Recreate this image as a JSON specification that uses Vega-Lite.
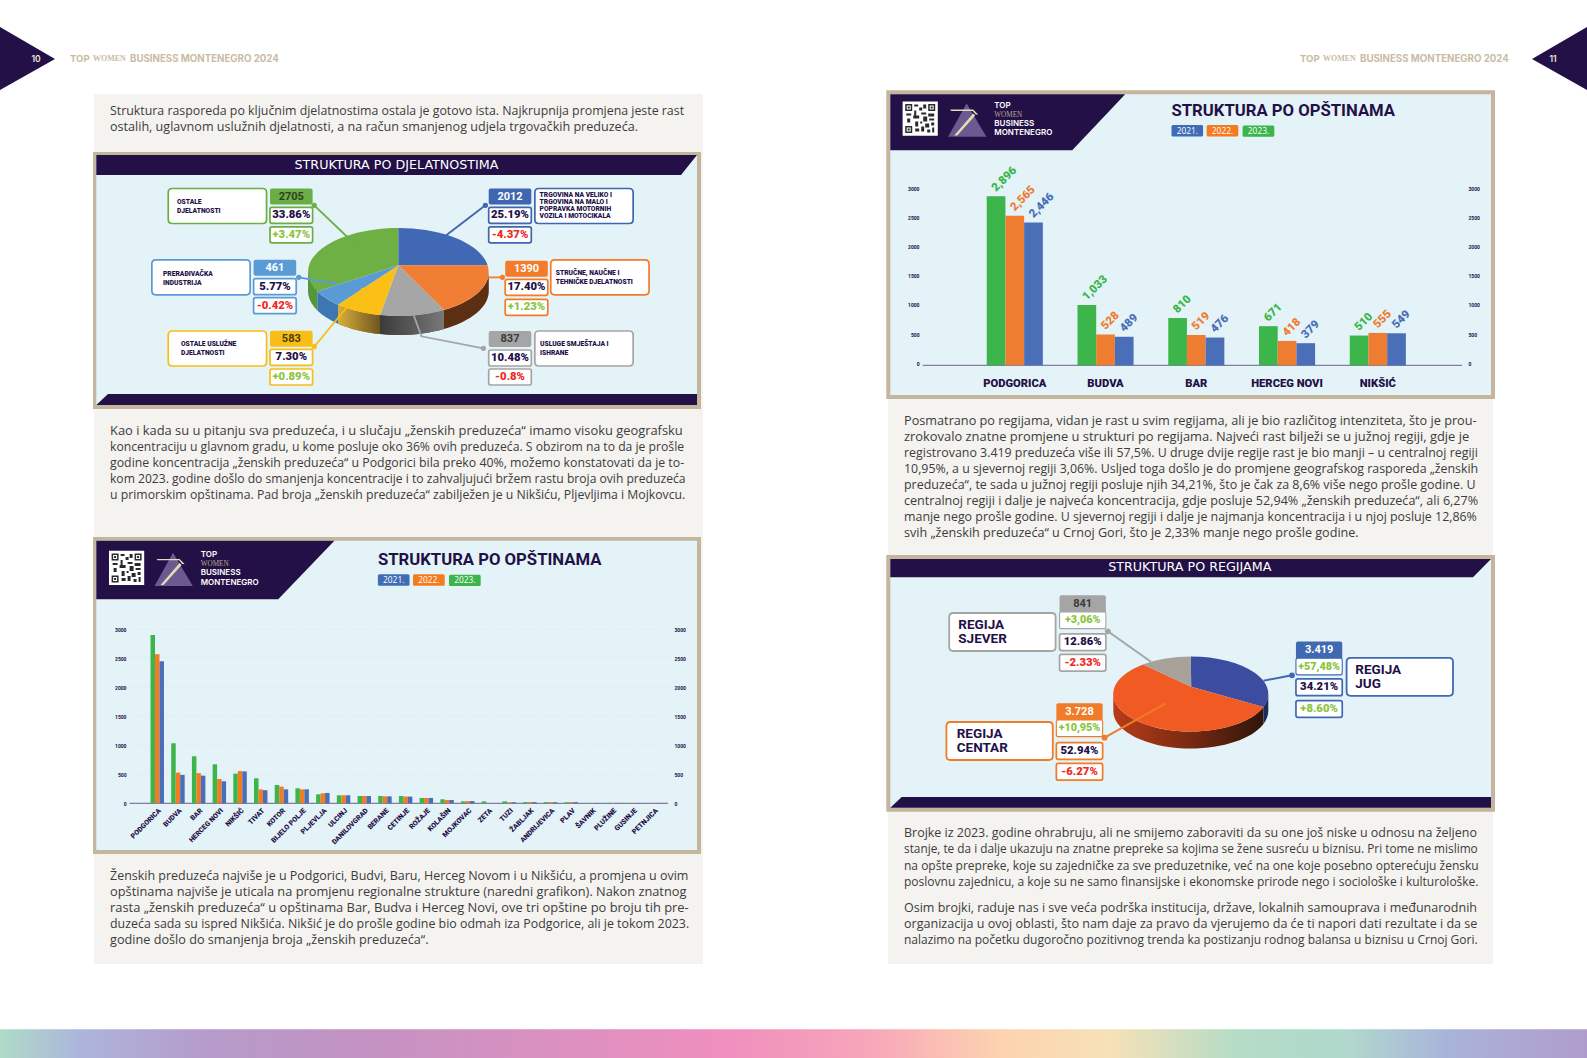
{"$schema":"https://vega.github.io/schema/vega-lite/v6.json","width":1587,"height":1058,"padding":0,"autosize":{"type":"none"},"background":"#ffffff","config":{"view":{"stroke":null},"axis":{"title":null,"grid":false,"ticks":false,"domain":false,"labelColor":"#231047","labelFont":"Roboto","labelFontWeight":"bold"}},
"datasets":{
"decor":[{"part":"Sheet left"},{"part":"Sheet right"},{"part":"Frames"},{"part":"Panels"},{"part":"Bands"}],
"pages":[{"side":"left","page":"10"},{"side":"right","page":"11"}],
"titles":[{"title":"STRUKTURA PO DJELATNOSTIMA"},{"title":"STRUKTURA PO REGIJAMA"}],
"panels":[{"panel":"all","title":"STRUKTURA PO OPŠTINAMA","top":"TOP","brand":"BUSINESS\nMONTENEGRO","women":"WOMEN"},{"panel":"top5","title":"STRUKTURA PO OPŠTINAMA","top":"TOP","brand":"BUSINESS\nMONTENEGRO","women":"WOMEN"}],
"chips":[{"panel":"all","year":"2021."},{"panel":"all","year":"2022."},{"panel":"all","year":"2023."},{"panel":"top5","year":"2021."},{"panel":"top5","year":"2022."},{"panel":"top5","year":"2023."}],
"depts":[
{"dept":"Ostale djelatnosti","n":2705,"shown":"2705","share":"33.86%","change":"+3.47%","label":"OSTALE\nDJELATNOSTI"},
{"dept":"Trgovina","n":2012,"shown":"2012","share":"25.19%","change":"-4.37%","label":"TRGOVINA NA VELIKO I\nTRGOVINA NA MALO I\nPOPRAVKA MOTORNIH\nVOZILA I MOTOCIKALA"},
{"dept":"Stručne","n":1390,"shown":"1390","share":"17.40%","change":"+1.23%","label":"STRUČNE, NAUČNE I\nTEHNIČKE DJELATNOSTI"},
{"dept":"Smještaj","n":837,"shown":"837","share":"10.48%","change":"-0.8%","label":"USLUGE SMJEŠTAJA I\nISHRANE"},
{"dept":"Uslužne","n":583,"shown":"583","share":"7.30%","change":"+0.89%","label":"OSTALE USLUŽNE\nDJELATNOSTI"},
{"dept":"Prerađivačka","n":461,"shown":"461","share":"5.77%","change":"-0.42%","label":"PRERAĐIVAČKA\nINDUSTRIJA"}],
"regions":[
{"region":"Jug","n":3419,"shown":"3.419","growth":"+57,48%","share":"34.21%","change":"+8.60%","label":"REGIJA\nJUG"},
{"region":"Centar","n":3728,"shown":"3.728","growth":"+10,95%","share":"52.94%","change":"-6.27%","label":"REGIJA\nCENTAR"},
{"region":"Sjever","n":841,"shown":"841","growth":"+3,06%","share":"12.86%","change":"-2.33%","label":"REGIJA\nSJEVER"}],
"munis":[
{"m":"PODGORICA","year":"2023","n":2896},{"m":"PODGORICA","year":"2022","n":2565},{"m":"PODGORICA","year":"2021","n":2446},
{"m":"BUDVA","year":"2023","n":1033},{"m":"BUDVA","year":"2022","n":528},{"m":"BUDVA","year":"2021","n":489},
{"m":"BAR","year":"2023","n":810},{"m":"BAR","year":"2022","n":519},{"m":"BAR","year":"2021","n":476},
{"m":"HERCEG NOVI","year":"2023","n":671},{"m":"HERCEG NOVI","year":"2022","n":418},{"m":"HERCEG NOVI","year":"2021","n":379},
{"m":"NIKŠIĆ","year":"2023","n":510},{"m":"NIKŠIĆ","year":"2022","n":555},{"m":"NIKŠIĆ","year":"2021","n":549},
{"m":"TIVAT","year":"2023","n":430},{"m":"TIVAT","year":"2022","n":240},{"m":"TIVAT","year":"2021","n":225},
{"m":"KOTOR","year":"2023","n":315},{"m":"KOTOR","year":"2022","n":287},{"m":"KOTOR","year":"2021","n":240},
{"m":"BIJELO POLJE","year":"2023","n":258},{"m":"BIJELO POLJE","year":"2022","n":240},{"m":"BIJELO POLJE","year":"2021","n":240},
{"m":"PLJEVLJA","year":"2023","n":155},{"m":"PLJEVLJA","year":"2022","n":172},{"m":"PLJEVLJA","year":"2021","n":178},
{"m":"ULCINJ","year":"2023","n":138},{"m":"ULCINJ","year":"2022","n":138},{"m":"ULCINJ","year":"2021","n":138},
{"m":"DANILOVGRAD","year":"2023","n":126},{"m":"DANILOVGRAD","year":"2022","n":126},{"m":"DANILOVGRAD","year":"2021","n":126},
{"m":"BERANE","year":"2023","n":126},{"m":"BERANE","year":"2022","n":120},{"m":"BERANE","year":"2021","n":120},
{"m":"CETINJE","year":"2023","n":126},{"m":"CETINJE","year":"2022","n":115},{"m":"CETINJE","year":"2021","n":115},
{"m":"ROŽAJE","year":"2023","n":92},{"m":"ROŽAJE","year":"2022","n":92},{"m":"ROŽAJE","year":"2021","n":92},
{"m":"KOLAŠIN","year":"2023","n":69},{"m":"KOLAŠIN","year":"2022","n":57},{"m":"KOLAŠIN","year":"2021","n":57},
{"m":"MOJKOVAC","year":"2023","n":34},{"m":"MOJKOVAC","year":"2022","n":38},{"m":"MOJKOVAC","year":"2021","n":38},
{"m":"ZETA","year":"2023","n":34},{"m":"ZETA","year":"2022","n":0},{"m":"ZETA","year":"2021","n":0},
{"m":"TUZI","year":"2023","n":34},{"m":"TUZI","year":"2022","n":17},{"m":"TUZI","year":"2021","n":16},
{"m":"ŽABLJAK","year":"2023","n":20},{"m":"ŽABLJAK","year":"2022","n":20},{"m":"ŽABLJAK","year":"2021","n":20},
{"m":"ANDRIJEVICA","year":"2023","n":20},{"m":"ANDRIJEVICA","year":"2022","n":20},{"m":"ANDRIJEVICA","year":"2021","n":18},
{"m":"PLAV","year":"2023","n":18},{"m":"PLAV","year":"2022","n":20},{"m":"PLAV","year":"2021","n":20},
{"m":"ŠAVNIK","year":"2023","n":5},{"m":"ŠAVNIK","year":"2022","n":5},{"m":"ŠAVNIK","year":"2021","n":4},
{"m":"PLUŽINE","year":"2023","n":4},{"m":"PLUŽINE","year":"2022","n":5},{"m":"PLUŽINE","year":"2021","n":4},
{"m":"GUSINJE","year":"2023","n":3},{"m":"GUSINJE","year":"2022","n":4},{"m":"GUSINJE","year":"2021","n":3},
{"m":"PETNJICA","year":"2023","n":2},{"m":"PETNJICA","year":"2022","n":3},{"m":"PETNJICA","year":"2021","n":3}],
"lines":[
{"column":"left","line":0,"text":"Struktura rasporeda po ključnim djelatnostima ostala je gotovo ista. Najkrupnija promjena jeste rast"},
{"column":"left","line":1,"text":"ostalih, uglavnom uslužnih djelatnosti, a na račun smanjenog udjela trgovačkih preduzeća."},
{"column":"left","line":2,"text":"Kao i kada su u pitanju sva preduzeća, i u slučaju „ženskih preduzeća“ imamo visoku geografsku"},
{"column":"left","line":3,"text":"koncentraciju u glavnom gradu, u kome posluje oko 36% ovih preduzeća. S obzirom na to da je prošle"},
{"column":"left","line":4,"text":"godine koncentracija „ženskih preduzeća“ u Podgorici bila preko 40%, možemo konstatovati da je to-"},
{"column":"left","line":5,"text":"kom 2023. godine došlo do smanjenja koncentracije i to zahvaljujući bržem rastu broja ovih preduzeća"},
{"column":"left","line":6,"text":"u primorskim opštinama. Pad broja „ženskih preduzeća“ zabilježen je u Nikšiću, Pljevljima i Mojkovcu."},
{"column":"left","line":7,"text":"Ženskih preduzeća najviše je u Podgorici, Budvi, Baru, Herceg Novom i u Nikšiću, a promjena u ovim"},
{"column":"left","line":8,"text":"opštinama najviše  je uticala na promjenu regionalne strukture (naredni grafikon).  Nakon znatnog"},
{"column":"left","line":9,"text":"rasta „ženskih preduzeća“ u opštinama Bar, Budva i Herceg Novi, ove tri opštine po broju tih pre-"},
{"column":"left","line":10,"text":"duzeća sada su ispred Nikšića. Nikšić je do prošle godine bio odmah iza Podgorice, ali je tokom 2023."},
{"column":"left","line":11,"text":"godine došlo do smanjenja broja „ženskih preduzeća“."},
{"column":"right","line":0,"text":"Posmatrano po regijama, vidan je rast u svim regijama, ali je bio različitog intenziteta, što je prou-"},
{"column":"right","line":1,"text":"zrokovalo znatne promjene u strukturi po regijama. Najveći rast bilježi se u južnoj regiji, gdje je"},
{"column":"right","line":2,"text":"registrovano 3.419 preduzeća više ili 57,5%. U druge dvije regije rast je bio manji – u centralnoj regiji"},
{"column":"right","line":3,"text":"10,95%, a u sjevernoj regiji 3,06%. Usljed toga došlo je do promjene geografskog rasporeda „ženskih"},
{"column":"right","line":4,"text":"preduzeća“, te sada u južnoj regiji  posluje njih 34,21%, što je čak za 8,6% više nego prošle godine. U"},
{"column":"right","line":5,"text":"centralnoj regiji i dalje je najveća koncentracija, gdje posluje 52,94% „ženskih preduzeća“, ali 6,27%"},
{"column":"right","line":6,"text":"manje nego prošle godine. U sjevernoj regiji i dalje je najmanja koncentracija i u njoj posluje 12,86%"},
{"column":"right","line":7,"text":"svih „ženskih preduzeća“ u Crnoj Gori, što je 2,33% manje nego prošle godine."},
{"column":"right","line":8,"text":"Brojke iz 2023. godine ohrabruju, ali ne smijemo zaboraviti da su one još niske u odnosu na željeno"},
{"column":"right","line":9,"text":"stanje, te da i dalje ukazuju na znatne prepreke sa kojima se žene susreću u biznisu. Pri tome ne mislimo"},
{"column":"right","line":10,"text":"na opšte prepreke, koje su zajedničke za sve preduzetnike, već na one koje posebno opterećuju žensku"},
{"column":"right","line":11,"text":"poslovnu zajednicu, a koje su ne samo finansijske i ekonomske prirode nego i sociološke i kulturološke."},
{"column":"right","line":12,"text":"Osim brojki, raduje nas i sve veća podrška institucija, države, lokalnih samouprava i međunarodnih"},
{"column":"right","line":13,"text":"organizacija u ovoj oblasti, što nam daje za pravo da vjerujemo da će ti napori dati rezultate i da se"},
{"column":"right","line":14,"text":"nalazimo na početku dugoročno pozitivnog trenda ka postizanju rodnog balansa u biznisu u Crnoj Gori."}]
},
"resolve":{"scale":{"x":"independent","y":"independent","xOffset":"independent","color":"independent","fill":"independent","stroke":"independent","shape":"independent","size":"independent","opacity":"independent"},"axis":{"x":"independent","y":"independent"}},
"layer":[
{"data":{"name":"decor"},"mark":{"type":"point","filled":true,"opacity":1,"strokeWidth":0,"size":4},"encoding":{"x":{"value":0},"y":{"value":0},
"shape":{"field":"part","type":"nominal","legend":null,"scale":{"domain":["Sheet left","Sheet right","Frames","Panels","Bands"],"range":[
"M94,94H703V964H94Z",
"M888,395H1493V964H888Z",
"M93,152H701V409H93ZM93,537H701V854H93ZM886.3,90.3H1495V399H886.3ZM886.3,555H1495V811.7H886.3Z",
"M96.3,155H697V405H96.3ZM96.3,540.7H697V850H96.3ZM890.3,94.3H1491V395H890.3ZM890.3,559H1491V807.7H890.3Z",
"M0,27L55,59L0,90ZM1587,27L1532,59L1587,90ZM96.3,155H697L681,175H96.3ZM108,394H697V405H96.3ZM96.3,540.7H334.4L278.2,599.3H96.3ZM890.3,94.3H1125.2L1072.2,150.3H890.3ZM890.3,559H1491L1473,577.3H890.3ZM901.7,797H1491V807.7H890.3Z"]}},
"fill":{"field":"part","type":"nominal","legend":null,"scale":{"domain":["Sheet left","Sheet right","Frames","Panels","Bands"],"range":["#F4F3EF","#F4F3EF","#C4B59D","#E3F3F7","#231047"]}}}},
{"data":{"values":[{"part":"Footer"}]},"mark":{"type":"point","filled":true,"opacity":1,"strokeWidth":0,"size":4,"shape":"M0,1029.3H1587V1058H0Z","fill":{"gradient":"linear","x1":0,"x2":1,"y1":0,"y2":0,"stops":[{"offset":0,"color":"#AEDCC8"},{"offset":0.05,"color":"#ADB5DC"},{"offset":0.13,"color":"#B59BCA"},{"offset":0.24,"color":"#C592C2"},{"offset":0.46,"color":"#F08FBE"},{"offset":0.55,"color":"#F7A7B9"},{"offset":0.63,"color":"#FDD3AF"},{"offset":0.7,"color":"#F6E1B8"},{"offset":0.78,"color":"#B4DCC6"},{"offset":0.85,"color":"#B0D8CC"},{"offset":0.91,"color":"#A9B4DB"},{"offset":1,"color":"#B09CCC"}]}},"encoding":{"x":{"value":0},"y":{"value":0}}},
{"data":{"values":[{"part":"Grid"}]},"mark":{"type":"point","filled":false,"opacity":1,"size":4,"shape":"M130,774H668M130,746H668M130,716H668M130,687H668M130,657H668M130,629H668","stroke":"#CFE0E6","strokeWidth":0.7,"strokeDash":[1,2]},"encoding":{"x":{"value":0},"y":{"value":0}}},
{"data":{"values":[{"part":"Baselines"}]},"mark":{"type":"point","filled":false,"opacity":1,"size":4,"shape":"M129.5,803.3H668M922.7,365.3H1462","stroke":"#6D5F8F","strokeWidth":1},"encoding":{"x":{"value":0},"y":{"value":0}}},

{"data":{"name":"pages"},"mark":{"type":"text","font":"Inter","fontWeight":700,"fontSize":9.6,"color":"#C9BCA3","align":"left","baseline":"middle","text":"TOP"},"encoding":{"x":{"field":"side","type":"nominal","axis":null,"scale":{"domain":["left","right"],"range":[70,1300],"padding":0}},"y":{"field":"side","type":"nominal","axis":null,"scale":{"domain":["left","right"],"range":[59,59],"padding":0}}}},
{"data":{"name":"pages"},"mark":{"type":"text","font":"Liberation Serif","fontWeight":700,"fontSize":8,"color":"#C9BCA3","align":"left","baseline":"middle","dx":23,"text":"WOMEN"},"encoding":{"x":{"field":"side","type":"nominal","axis":null,"scale":{"domain":["left","right"],"range":[70,1300],"padding":0}},"y":{"field":"side","type":"nominal","axis":null,"scale":{"domain":["left","right"],"range":[59,59],"padding":0}}}},
{"data":{"name":"pages"},"mark":{"type":"text","font":"Inter","fontWeight":700,"fontSize":9.7,"color":"#C9BCA3","align":"left","baseline":"middle","dx":60,"text":"BUSINESS MONTENEGRO 2024"},"encoding":{"x":{"field":"side","type":"nominal","axis":null,"scale":{"domain":["left","right"],"range":[70,1300],"padding":0}},"y":{"field":"side","type":"nominal","axis":null,"scale":{"domain":["left","right"],"range":[59,59],"padding":0}}}},
{"data":{"name":"pages"},"mark":{"type":"text","font":"Inter","fontWeight":600,"fontSize":8.5,"color":"#EFE9DC","align":"center","baseline":"middle"},"encoding":{"text":{"field":"page"},"x":{"field":"side","type":"nominal","axis":null,"scale":{"domain":["left","right"],"range":[36,1553],"padding":0}},"y":{"field":"side","type":"nominal","axis":null,"scale":{"domain":["left","right"],"range":[59,59],"padding":0}}}},

{"data":{"name":"lines"},"transform":[{"filter":"datum.column==='left'"}],"mark":{"type":"text","font":"Open Sans","color":"#3C3C3C","align":"left","baseline":"middle"},"encoding":{"text":{"field":"text"},"x":{"field":"column","type":"nominal","axis":null,"scale":{"domain":["left","right"],"range":[110,904],"padding":0}},"y":{"field":"line","type":"quantitative","axis":null,"scale":{"domain":[0,1,2,6,7,11],"range":[110.7,127,430.7,495,875.7,940],"zero":false,"nice":false}},
"size":{"field":"line","type":"quantitative","legend":null,"scale":{"zero":false,"nice":false,"domain":[0,1,2,3,4,5,6,7,8,9,10,11],"range":[12.37,12.58,12.9,12.18,12.32,12.11,12.25,12.48,12.8,12.9,12.4,12.68]}}}},
{"data":{"name":"lines"},"transform":[{"filter":"datum.column==='right'"}],"mark":{"type":"text","font":"Open Sans","color":"#3C3C3C","align":"left","baseline":"middle"},"encoding":{"text":{"field":"text"},"x":{"field":"column","type":"nominal","axis":null,"scale":{"domain":["left","right"],"range":[110,904],"padding":0}},"y":{"field":"line","type":"quantitative","axis":null,"scale":{"domain":[0,7,8,11,12,14],"range":[420.7,532.7,833.3,881.7,908.3,940.3],"zero":false,"nice":false}},
"size":{"field":"line","type":"quantitative","legend":null,"scale":{"zero":false,"nice":false,"domain":[0,1,2,3,4,5,6,7,8,9,10,11,12,13,14],"range":[12.7,12.9,12.4,12.37,12.44,12.59,12.42,12.6,12.46,11.82,12,12,12.5,12.55,11.98]}}}},

{"data":{"name":"titles"},"mark":{"type":"text","font":"DejaVu Sans","fontSize":12.7,"color":"#FFFFFF","align":"center","baseline":"middle"},"encoding":{"text":{"field":"title"},"x":{"field":"title","type":"nominal","axis":null,"scale":{"domain":["STRUKTURA PO DJELATNOSTIMA","STRUKTURA PO REGIJAMA"],"range":[396.5,1189.8],"padding":0}},"y":{"field":"title","type":"nominal","axis":null,"scale":{"domain":["STRUKTURA PO DJELATNOSTIMA","STRUKTURA PO REGIJAMA"],"range":[164.7,567.3],"padding":0}}}},

{"data":{"name":"panels"},"mark":{"type":"point","filled":true,"opacity":1,"strokeWidth":0,"size":4,"fill":"#FFFFFF","shape":"M-17.6,-17.2H17.6V17.2H-17.6Z"},"encoding":{"x":{"field":"panel","type":"nominal","axis":null,"scale":{"domain":["all","top5"],"range":[126.6,920.2],"padding":0}},"y":{"field":"panel","type":"nominal","axis":null,"scale":{"domain":["all","top5"],"range":[567.9,118.6],"padding":0}}}},
{"data":{"name":"panels"},"mark":{"type":"point","filled":true,"opacity":1,"strokeWidth":0,"size":4,"fill":"#2A2A2A","shape":"M-15,-14.5H-8V-7.5H-15ZM-13.5,-13V-9H-9.5V-13ZM-12.5,-12H-10.5V-10H-12.5ZM8,-14.5H15V-7.5H8ZM9.5,-13V-9H13.5V-13ZM10.5,-12H12.5V-10H10.5ZM-15,7.5H-8V14.5H-15ZM-13.5,9V13H-9.5V9ZM-12.5,10H-10.5V12H-12.5ZM-6,-14H-2V-12H-6ZM-1,-11H2V-8H-1ZM3,-14H6V-10H3ZM-6,-8H-4V-3H-6ZM-14,-5H-9V-3H-14ZM-7,-3H-1V0H-7ZM1,-6H6V-4H1ZM8,-5H14V-2H8ZM-13,0H-10V4H-13ZM3,-2H7V3H3ZM9,0H14V2H9ZM-5,3H-2V8H-5ZM0,3H2V5H0ZM5,5H9V9H5ZM11,4H14V7H11ZM-5,10H-1V13H-5ZM1,8H4V13H1ZM7,11H10V14H7ZM12,9H14V14H12Z"},"encoding":{"x":{"field":"panel","type":"nominal","axis":null,"scale":{"domain":["all","top5"],"range":[126.6,920.2],"padding":0}},"y":{"field":"panel","type":"nominal","axis":null,"scale":{"domain":["all","top5"],"range":[567.9,118.6],"padding":0}}}},
{"data":{"name":"panels"},"mark":{"type":"point","filled":true,"opacity":1,"strokeWidth":0,"size":4,"fill":"#6A5A92","shape":"M46.4,-15.2L66.2,18.1H27.9Z"},"encoding":{"x":{"field":"panel","type":"nominal","axis":null,"scale":{"domain":["all","top5"],"range":[126.6,920.2],"padding":0}},"y":{"field":"panel","type":"nominal","axis":null,"scale":{"domain":["all","top5"],"range":[567.9,118.6],"padding":0}}}},
{"data":{"name":"panels"},"mark":{"type":"point","filled":true,"opacity":1,"strokeWidth":0,"size":4,"fill":"#E4DDB0","shape":"M34,17L37,17L55,-3L53,-5ZM30,-9H53L58,-4H55.5L52.5,-7.6H31Z"},"encoding":{"x":{"field":"panel","type":"nominal","axis":null,"scale":{"domain":["all","top5"],"range":[126.6,920.2],"padding":0}},"y":{"field":"panel","type":"nominal","axis":null,"scale":{"domain":["all","top5"],"range":[567.9,118.6],"padding":0}}}},
{"data":{"name":"panels"},"mark":{"type":"text","font":"Inter","fontWeight":600,"fontSize":8,"color":"#FFFFFF","align":"left","baseline":"middle","dx":74.1,"dy":-12.9},"encoding":{"text":{"field":"top"},"x":{"field":"panel","type":"nominal","axis":null,"scale":{"domain":["all","top5"],"range":[126.6,920.2],"padding":0}},"y":{"field":"panel","type":"nominal","axis":null,"scale":{"domain":["all","top5"],"range":[567.9,118.6],"padding":0}}}},
{"data":{"name":"panels"},"mark":{"type":"text","font":"Inter","fontWeight":600,"fontSize":8,"lineBreak":"\n","lineHeight":9.7,"color":"#FFFFFF","align":"left","baseline":"middle","dx":74.1,"dy":5.1},"encoding":{"text":{"field":"brand"},"x":{"field":"panel","type":"nominal","axis":null,"scale":{"domain":["all","top5"],"range":[126.6,920.2],"padding":0}},"y":{"field":"panel","type":"nominal","axis":null,"scale":{"domain":["all","top5"],"range":[567.9,118.6],"padding":0}}}},
{"data":{"name":"panels"},"mark":{"type":"text","font":"Liberation Serif","fontSize":7.2,"color":"#B7A98F","align":"left","baseline":"middle","dx":74.1,"dy":-3.6},"encoding":{"text":{"field":"women"},"x":{"field":"panel","type":"nominal","axis":null,"scale":{"domain":["all","top5"],"range":[126.6,920.2],"padding":0}},"y":{"field":"panel","type":"nominal","axis":null,"scale":{"domain":["all","top5"],"range":[567.9,118.6],"padding":0}}}},
{"data":{"name":"panels"},"mark":{"type":"text","font":"Roboto","fontWeight":700,"fontSize":16.7,"color":"#231047","align":"left","baseline":"middle","dx":251.3,"dy":-7.5},"encoding":{"text":{"field":"title"},"x":{"field":"panel","type":"nominal","axis":null,"scale":{"domain":["all","top5"],"range":[126.6,920.2],"padding":0}},"y":{"field":"panel","type":"nominal","axis":null,"scale":{"domain":["all","top5"],"range":[567.9,118.6],"padding":0}}}},
{"data":{"name":"chips"},"mark":{"type":"point","filled":true,"opacity":1,"strokeWidth":0,"size":4},"encoding":{"x":{"field":"panel","type":"nominal","axis":null,"scale":{"domain":["all","top5"],"range":[126.6,920.2],"padding":0}},"y":{"field":"panel","type":"nominal","axis":null,"scale":{"domain":["all","top5"],"range":[567.9,118.6],"padding":0}},
"shape":{"field":"year","type":"nominal","legend":null,"scale":{"domain":["2021.","2022.","2023."],"range":["M252.8,6.4H281.4Q282.9,6.4 282.9,7.9V16.3Q282.9,17.8 281.4,17.8H252.8Q251.3,17.8 251.3,16.3V7.9Q251.3,6.4 252.8,6.4Z","M287.9,6.4H316.6Q318.1,6.4 318.1,7.9V16.3Q318.1,17.8 316.6,17.8H287.9Q286.4,17.8 286.4,16.3V7.9Q286.4,6.4 287.9,6.4Z","M323.9,6.8H352.6Q354.1,6.8 354.1,8.3V16.7Q354.1,18.2 352.6,18.2H323.9Q322.4,18.2 322.4,16.7V8.3Q322.4,6.8 323.9,6.8Z"]}},
"fill":{"field":"year","type":"nominal","legend":null,"scale":{"domain":["2021.","2022.","2023."],"range":["#3F6DB5","#F47B20","#3CB54A"]}}}},
{"data":{"name":"chips"},"transform":[{"filter":"datum.year==='2021.'"}],"mark":{"type":"text","font":"Open Sans","fontSize":8.4,"color":"#FFFFFF","align":"center","baseline":"middle","dx":267.1,"dy":12.1},"encoding":{"text":{"field":"year"},"x":{"field":"panel","type":"nominal","axis":null,"scale":{"domain":["all","top5"],"range":[126.6,920.2],"padding":0}},"y":{"field":"panel","type":"nominal","axis":null,"scale":{"domain":["all","top5"],"range":[567.9,118.6],"padding":0}}}},
{"data":{"name":"chips"},"transform":[{"filter":"datum.year==='2022.'"}],"mark":{"type":"text","font":"Open Sans","fontSize":8.4,"color":"#FFFFFF","align":"center","baseline":"middle","dx":302.3,"dy":12.1},"encoding":{"text":{"field":"year"},"x":{"field":"panel","type":"nominal","axis":null,"scale":{"domain":["all","top5"],"range":[126.6,920.2],"padding":0}},"y":{"field":"panel","type":"nominal","axis":null,"scale":{"domain":["all","top5"],"range":[567.9,118.6],"padding":0}}}},
{"data":{"name":"chips"},"transform":[{"filter":"datum.year==='2023.'"}],"mark":{"type":"text","font":"Open Sans","fontSize":8.4,"color":"#FFFFFF","align":"center","baseline":"middle","dx":338.3,"dy":12.5},"encoding":{"text":{"field":"year"},"x":{"field":"panel","type":"nominal","axis":null,"scale":{"domain":["all","top5"],"range":[126.6,920.2],"padding":0}},"y":{"field":"panel","type":"nominal","axis":null,"scale":{"domain":["all","top5"],"range":[567.9,118.6],"padding":0}}}},

{"data":{"name":"munis"},"mark":{"type":"bar"},"encoding":{
"x":{"field":"m","type":"nominal","sort":null,"axis":{"orient":"bottom","offset":-254.7,"zindex":1,"labelAngle":-45,"labelFontSize":7,"labelFontWeight":900,"labelPadding":3,"labelOverlap":false,"labelBound":false,"labelFlush":false},"scale":{"domain":["PODGORICA","BUDVA","BAR","HERCEG NOVI","NIKŠIĆ","TIVAT","KOTOR","BIJELO POLJE","PLJEVLJA","ULCINJ","DANILOVGRAD","BERANE","CETINJE","ROŽAJE","KOLAŠIN","MOJKOVAC","ZETA","TUZI","ŽABLJAK","ANDRIJEVICA","PLAV","ŠAVNIK","PLUŽINE","GUSINJE","PETNJICA"],"range":[146.9,664.4],"paddingInner":0.35,"paddingOuter":0.175}},
"xOffset":{"field":"year","type":"nominal","scale":{"domain":["2023","2022","2021"]}},
"y":{"field":"n","type":"quantitative","axis":{"orient":"left","offset":-128,"zindex":1,"format":"d","values":[0,500,1000,1500,2000,2500,3000],"labelFontSize":5,"labelPadding":2},"scale":{"domain":[0,3000],"range":[803.3,629],"nice":false}},
"color":{"field":"year","type":"nominal","legend":null,"scale":{"domain":["2023","2022","2021"],"range":["#3CB54A","#F47B20","#4A6FB8"]}}}},
{"data":{"name":"munis"},"mark":{"type":"point","opacity":0},"encoding":{"x":{"value":0},"y":{"field":"n","type":"quantitative","axis":{"orient":"right","offset":-915,"zindex":1,"format":"d","values":[0,500,1000,1500,2000,2500,3000],"labelFontSize":5,"labelPadding":2},"scale":{"domain":[0,3000],"range":[803.3,629],"nice":false}}}},

{"data":{"name":"munis"},"transform":[{"filter":{"field":"m","oneOf":["PODGORICA","BUDVA","BAR","HERCEG NOVI","NIKŠIĆ"]}}],"mark":{"type":"bar"},"encoding":{
"x":{"field":"m","type":"nominal","sort":null,"axis":{"orient":"bottom","offset":-692.7,"zindex":1,"labelAngle":0,"labelFontSize":11.2,"labelFontWeight":900,"labelPadding":12,"labelOverlap":false,"labelBound":false,"labelFlush":false},"scale":{"domain":["PODGORICA","BUDVA","BAR","HERCEG NOVI","NIKŠIĆ"],"range":[969.4,1423.2],"paddingInner":0.382,"paddingOuter":0.191}},
"xOffset":{"field":"year","type":"nominal","scale":{"domain":["2023","2022","2021"]}},
"y":{"field":"n","type":"quantitative","axis":{"orient":"left","offset":-921,"zindex":1,"format":"d","values":[0,500,1000,1500,2000,2500,3000],"labelFontSize":5,"labelPadding":2,"labelOffset":-2},"scale":{"domain":[0,3000],"range":[365.3,190.3],"nice":false}},
"color":{"field":"year","type":"nominal","legend":null,"scale":{"domain":["2023","2022","2021"],"range":["#3CB54A","#EE7D31","#4A6FB8"]}}}},
{"data":{"name":"munis"},"transform":[{"filter":{"field":"m","oneOf":["PODGORICA","BUDVA","BAR","HERCEG NOVI","NIKŠIĆ"]}}],"mark":{"type":"point","opacity":0},"encoding":{"x":{"value":0},"y":{"field":"n","type":"quantitative","axis":{"orient":"right","offset":-121,"zindex":1,"format":"d","values":[0,500,1000,1500,2000,2500,3000],"labelFontSize":5,"labelPadding":2,"labelOffset":-2},"scale":{"domain":[0,3000],"range":[365.3,190.3],"nice":false}}}},
{"data":{"name":"munis"},"transform":[{"filter":{"field":"m","oneOf":["PODGORICA","BUDVA","BAR","HERCEG NOVI","NIKŠIĆ"]}}],"mark":{"type":"text","font":"Roboto","fontWeight":900,"fontSize":11.5,"angle":315,"align":"left","baseline":"middle","dx":3,"dy":-6},"encoding":{
"text":{"field":"n","type":"quantitative","format":","},
"x":{"field":"m","type":"nominal","sort":null,"axis":null,"scale":{"domain":["PODGORICA","BUDVA","BAR","HERCEG NOVI","NIKŠIĆ"],"range":[969.4,1423.2],"paddingInner":0.382,"paddingOuter":0.191}},
"xOffset":{"field":"year","type":"nominal","scale":{"domain":["2023","2022","2021"]}},
"y":{"field":"n","type":"quantitative","axis":null,"scale":{"domain":[0,3000],"range":[365.3,190.3],"nice":false}},
"color":{"field":"year","type":"nominal","legend":null,"scale":{"domain":["2023","2022","2021"],"range":["#3CB54A","#EE7D31","#4A6FB8"]}}}},

{"data":{"name":"depts"},"mark":{"type":"point","filled":true,"opacity":1,"strokeWidth":0,"size":4},"encoding":{"x":{"value":0},"y":{"value":0},
"shape":{"field":"dept","type":"nominal","legend":null,"scale":{"domain":["Ostale djelatnosti","Trgovina","Stručne","Smještaj","Uslužne","Prerađivačka"],"range":[
"M317.4,291.5A90.4,44 0 0 0 308,272L308,291A90.4,44 0 0 0 317.4,310.5Z",
"M488.8,272L488.8,291L488.8,272Z",
"M488.8,272A90.4,44 0 0 1 444,310L444,329A90.4,44 0 0 0 488.8,291Z",
"M444,310A90.4,44 0 0 1 380,315.1L380,334.1A90.4,44 0 0 0 444,329Z",
"M380,315.1A90.4,44 0 0 1 338,304.7L338,323.7A90.4,44 0 0 0 380,334.1Z",
"M338,304.7A90.4,44 0 0 1 317.4,291.5L317.4,310.5A90.4,44 0 0 0 338,323.7Z"]}},
"fill":{"field":"dept","type":"nominal","legend":null,"scale":{"domain":["Ostale djelatnosti","Trgovina","Stručne","Smještaj","Uslužne","Prerađivačka"],"range":["#55963A","#2C4C8C","#5C2F12","#4F4F4F","#A8862F","#3D76B0"]}}}},
{"data":{"name":"depts"},"transform":[{"filter":"datum.dept==='Smještaj'"}],"mark":{"type":"point","filled":true,"opacity":1,"strokeWidth":0,"size":4,"shape":"M444,310A90.4,44 0 0 1 380,315.1L380,334.1A90.4,44 0 0 0 444,329Z","fill":{"gradient":"linear","x1":0,"x2":1,"y1":0,"y2":0,"stops":[{"offset":0,"color":"#3A3A3A"},{"offset":1,"color":"#787878"}]}},"encoding":{"x":{"value":0},"y":{"value":0}}},
{"data":{"name":"depts"},"transform":[{"filter":"datum.dept==='Uslužne'"}],"mark":{"type":"point","filled":true,"opacity":1,"strokeWidth":0,"size":4,"shape":"M380,315.1A90.4,44 0 0 1 338,304.7L338,323.7A90.4,44 0 0 0 380,334.1Z","fill":{"gradient":"linear","x1":0,"x2":1,"y1":0,"y2":0,"stops":[{"offset":0,"color":"#D9AE38"},{"offset":1,"color":"#6E5620"}]}},"encoding":{"x":{"value":0},"y":{"value":0}}},
{"data":{"name":"depts"},"mark":{"type":"point","filled":true,"opacity":1,"strokeWidth":0,"size":4},"encoding":{"x":{"value":0},"y":{"value":0},
"shape":{"field":"dept","type":"nominal","legend":null,"scale":{"domain":["Ostale djelatnosti","Trgovina","Stručne","Smještaj","Uslužne","Prerađivačka"],"range":[
"M398.4,265.3L317.4,291.5A90.4,44 0 0 1 398.4,228Z",
"M398.4,265.3L398.4,228A90.4,44 0 0 1 487.6,265.3Z",
"M398.4,265.3L487.6,265.3A90.4,44 0 0 1 444,310Z",
"M398.4,265.3L444,310A90.4,44 0 0 1 380,315.1Z",
"M398.4,265.3L380,315.1A90.4,44 0 0 1 338,304.7Z",
"M398.4,265.3L338,304.7A90.4,44 0 0 1 317.4,291.5Z"]}},
"fill":{"field":"dept","type":"nominal","legend":null,"scale":{"domain":["Ostale djelatnosti","Trgovina","Stručne","Smještaj","Uslužne","Prerađivačka"],"range":["#6FB045","#4068B4","#F07F35","#A6A6A6","#FBC016","#5B9BD5"]}}}},
{"data":{"name":"depts"},"mark":{"type":"point","filled":false,"opacity":1,"strokeWidth":1.8,"size":4},"encoding":{"x":{"value":0},"y":{"value":0},
"shape":{"field":"dept","type":"nominal","legend":null,"scale":{"domain":["Ostale djelatnosti","Trgovina","Stručne","Smještaj","Uslužne","Prerađivačka"],"range":["M314.2,205.3L358.9,248","M485.4,205.3L433.2,245.3","M502.4,277.3L436,277.3","M483.4,348.3L421.4,336.3L412.3,311.3","M314.2,346.7L362.8,288","M298.8,277.3L337.1,284"]}},
"stroke":{"field":"dept","type":"nominal","legend":null,"scale":{"domain":["Ostale djelatnosti","Trgovina","Stručne","Smještaj","Uslužne","Prerađivačka"],"range":["#6AAE45","#3F66B0","#F37B2A","#A5A5A5","#F9BE16","#5B9BD5"]}}}},
{"data":{"name":"depts"},"mark":{"type":"point","filled":true,"opacity":1,"shape":"circle","size":28,"strokeWidth":0},"encoding":{
"x":{"field":"n","type":"quantitative","axis":null,"scale":{"domain":[461,583,837,1390,2012,2705],"range":[298.8,314.2,483.4,502.4,485.4,314.2],"zero":false,"nice":false}},
"y":{"field":"n","type":"quantitative","axis":null,"scale":{"domain":[461,583,837,1390,2012,2705],"range":[277.3,346.7,348.3,277.3,205.3,205.3],"zero":false,"nice":false}},
"fill":{"field":"dept","type":"nominal","legend":null,"scale":{"domain":["Ostale djelatnosti","Trgovina","Stručne","Smještaj","Uslužne","Prerađivačka"],"range":["#6AAE45","#3F66B0","#F37B2A","#A5A5A5","#F9BE16","#5B9BD5"]}}}},
{"data":{"name":"depts"},"mark":{"type":"point","filled":true,"opacity":1,"fill":"#FFFFFF","strokeWidth":1.7,"size":4,"shape":"M-45.15,-17.5H45.15Q49.15,-17.5 49.15,-13.5V13.5Q49.15,17.5 45.15,17.5H-45.15Q-49.15,17.5 -49.15,13.5V-13.5Q-49.15,-17.5 -45.15,-17.5Z"},"encoding":{
"x":{"field":"n","type":"quantitative","axis":null,"scale":{"domain":[461,583,837,1390,2012,2705],"range":[201,217.4,584,599.9,584,217.4],"zero":false,"nice":false}},
"y":{"field":"n","type":"quantitative","axis":null,"scale":{"domain":[461,583,837,1390,2012,2705],"range":[277.3,348.5,348.5,277.3,206,206],"zero":false,"nice":false}},
"stroke":{"field":"dept","type":"nominal","legend":null,"scale":{"domain":["Ostale djelatnosti","Trgovina","Stručne","Smještaj","Uslužne","Prerađivačka"],"range":["#6AAE45","#3F66B0","#F37B2A","#A5A5A5","#F9BE16","#5B9BD5"]}}}},
{"data":{"name":"depts"},"transform":[{"filter":"datum.dept!=='Trgovina'"}],"mark":{"type":"text","font":"Roboto","fontWeight":900,"fontSize":6.7,"lineBreak":"\n","lineHeight":8.8,"color":"#231047","align":"left","baseline":"middle"},"encoding":{"text":{"field":"label"},
"x":{"field":"n","type":"quantitative","axis":null,"scale":{"domain":[461,583,837,1390,2012,2705],"range":[163,181,540,555.8,539.6,177],"zero":false,"nice":false}},
"y":{"field":"n","type":"quantitative","axis":null,"scale":{"domain":[461,583,837,1390,2012,2705],"range":[274.3,344.3,344.3,273.3,195.3,202.3],"zero":false,"nice":false}}}},
{"data":{"name":"depts"},"transform":[{"filter":"datum.dept==='Trgovina'"}],"mark":{"type":"text","font":"Roboto","fontWeight":900,"fontSize":6.7,"lineBreak":"\n","lineHeight":7,"color":"#231047","align":"left","baseline":"middle"},"encoding":{"text":{"field":"label"},
"x":{"field":"dept","type":"nominal","axis":null,"scale":{"domain":["Trgovina","Ostalo"],"range":[539.6,640],"padding":0}},
"y":{"field":"dept","type":"nominal","axis":null,"scale":{"domain":["Trgovina","Ostalo"],"range":[195.3,300],"padding":0}}}},
{"data":{"name":"depts"},"mark":{"type":"point","filled":true,"opacity":1,"strokeWidth":0,"size":4,"shape":"M-19.3,-8H19.3Q21.3,-8 21.3,-6V6Q21.3,8 19.3,8H-19.3Q-21.3,8 -21.3,6V-6Q-21.3,-8 -19.3,-8Z"},"encoding":{
"x":{"field":"n","type":"quantitative","axis":null,"scale":{"domain":[461,583,837,1390,2012,2705],"range":[274.9,291.3,510,526.5,510,291.3],"zero":false,"nice":false}},
"y":{"field":"n","type":"quantitative","axis":null,"scale":{"domain":[461,583,837,1390,2012,2705],"range":[267.7,338.7,339,268.7,196.5,196.5],"zero":false,"nice":false}},
"fill":{"field":"dept","type":"nominal","legend":null,"scale":{"domain":["Ostale djelatnosti","Trgovina","Stručne","Smještaj","Uslužne","Prerađivačka"],"range":["#6AAE45","#3F66B0","#F37B2A","#A5A5A5","#F9BE16","#5B9BD5"]}}}},
{"data":{"name":"depts"},"mark":{"type":"text","font":"Roboto","fontWeight":700,"fontSize":11,"align":"center","baseline":"middle"},"encoding":{"text":{"field":"shown"},
"x":{"field":"n","type":"quantitative","axis":null,"scale":{"domain":[461,583,837,1390,2012,2705],"range":[274.9,291.3,510,526.5,510,291.3],"zero":false,"nice":false}},
"y":{"field":"n","type":"quantitative","axis":null,"scale":{"domain":[461,583,837,1390,2012,2705],"range":[267.7,338.7,339,268.7,196.5,196.5],"zero":false,"nice":false}},
"color":{"field":"dept","type":"nominal","legend":null,"scale":{"domain":["Ostale djelatnosti","Trgovina","Stručne","Smještaj","Uslužne","Prerađivačka"],"range":["#2F3E22","#FFFFFF","#FFFFFF","#3A3A3A","#4A3A10","#FFFFFF"]}}}},
{"data":{"name":"depts"},"mark":{"type":"point","filled":true,"opacity":1,"fill":"#FFFFFF","strokeWidth":1.7,"size":4,"shape":"M-19.3,-8H19.3Q21.3,-8 21.3,-6V6Q21.3,8 19.3,8H-19.3Q-21.3,8 -21.3,6V-6Q-21.3,-8 -19.3,-8Z"},"encoding":{
"x":{"field":"n","type":"quantitative","axis":null,"scale":{"domain":[461,583,837,1390,2012,2705],"range":[274.9,291.3,510,526.5,510,291.3],"zero":false,"nice":false}},
"y":{"field":"n","type":"quantitative","axis":null,"scale":{"domain":[461,583,837,1390,2012,2705],"range":[286.7,357.3,358,287.3,215.3,215.3],"zero":false,"nice":false}},
"stroke":{"field":"dept","type":"nominal","legend":null,"scale":{"domain":["Ostale djelatnosti","Trgovina","Stručne","Smještaj","Uslužne","Prerađivačka"],"range":["#6AAE45","#3F66B0","#F37B2A","#A5A5A5","#F9BE16","#5B9BD5"]}}}},
{"data":{"name":"depts"},"mark":{"type":"text","font":"Roboto","fontWeight":900,"fontSize":11.3,"color":"#231047","align":"center","baseline":"middle"},"encoding":{"text":{"field":"share"},
"x":{"field":"n","type":"quantitative","axis":null,"scale":{"domain":[461,583,837,1390,2012,2705],"range":[274.9,291.3,510,526.5,510,291.3],"zero":false,"nice":false}},
"y":{"field":"n","type":"quantitative","axis":null,"scale":{"domain":[461,583,837,1390,2012,2705],"range":[286.7,357.3,358,287.3,215.3,215.3],"zero":false,"nice":false}}}},
{"data":{"name":"depts"},"mark":{"type":"point","filled":true,"opacity":1,"fill":"#FFFFFF","strokeWidth":1.7,"size":4,"shape":"M-19.3,-8H19.3Q21.3,-8 21.3,-6V6Q21.3,8 19.3,8H-19.3Q-21.3,8 -21.3,6V-6Q-21.3,-8 -19.3,-8Z"},"encoding":{
"x":{"field":"n","type":"quantitative","axis":null,"scale":{"domain":[461,583,837,1390,2012,2705],"range":[274.9,291.3,510,526.5,510,291.3],"zero":false,"nice":false}},
"y":{"field":"n","type":"quantitative","axis":null,"scale":{"domain":[461,583,837,1390,2012,2705],"range":[305.7,377,377,307.3,234.8,234.8],"zero":false,"nice":false}},
"stroke":{"field":"dept","type":"nominal","legend":null,"scale":{"domain":["Ostale djelatnosti","Trgovina","Stručne","Smještaj","Uslužne","Prerađivačka"],"range":["#6AAE45","#3F66B0","#F37B2A","#A5A5A5","#F9BE16","#5B9BD5"]}}}},
{"data":{"name":"depts"},"mark":{"type":"text","font":"Roboto","fontWeight":900,"fontSize":11.3,"align":"center","baseline":"middle"},"encoding":{"text":{"field":"change"},
"x":{"field":"n","type":"quantitative","axis":null,"scale":{"domain":[461,583,837,1390,2012,2705],"range":[274.9,291.3,510,526.5,510,291.3],"zero":false,"nice":false}},
"y":{"field":"n","type":"quantitative","axis":null,"scale":{"domain":[461,583,837,1390,2012,2705],"range":[305.7,377,377,307.3,234.8,234.8],"zero":false,"nice":false}},
"color":{"condition":{"test":"datum.change[0]==='+'","value":"#8BC53F"},"value":"#EE2A24"}}},

{"data":{"name":"regions"},"transform":[{"filter":"datum.region==='Centar'"}],"mark":{"type":"point","filled":true,"opacity":1,"strokeWidth":0,"size":4,"shape":"M1113.3,694A77.5,37.5 0 0 0 1263.5,707L1263.5,724A77.5,37.5 0 0 1 1113.3,711Z","fill":{"gradient":"linear","x1":0,"x2":1,"y1":0,"y2":0,"stops":[{"offset":0,"color":"#B83C18"},{"offset":0.5,"color":"#7A2A12"},{"offset":1,"color":"#2F1508"}]}},"encoding":{"x":{"value":0},"y":{"value":0}}},
{"data":{"name":"regions"},"mark":{"type":"point","filled":true,"opacity":1,"strokeWidth":0,"size":4},"encoding":{"x":{"value":0},"y":{"value":0},
"shape":{"field":"region","type":"nominal","legend":null,"scale":{"domain":["Jug","Centar","Sjever"],"range":["M1191.2,686.7L1190.8,656.5A77.5,37.5 0 0 1 1263.5,707Z","M1191.2,686.7L1263.5,707A77.5,37.5 0 1 1 1143,664.5Z","M1191.2,686.7L1143,664.5A77.5,37.5 0 0 1 1190.8,656.5Z"]}},
"fill":{"field":"region","type":"nominal","legend":null,"scale":{"domain":["Jug","Centar","Sjever"],"range":["#3B4CA1","#F15A22","#A8A199"]}}}},
{"data":{"values":[{"part":"Pie edge"}]},"mark":{"type":"point","filled":true,"opacity":1,"strokeWidth":0,"size":4,"fill":"#1C2A5A","shape":"M1263.5,707A77.5,37.5 0 0 0 1268.3,694L1268.3,711A77.5,37.5 0 0 1 1263.5,724Z"},"encoding":{"x":{"value":0},"y":{"value":0}}},
{"data":{"name":"regions"},"mark":{"type":"point","filled":false,"opacity":1,"strokeWidth":2,"size":4},"encoding":{"x":{"value":0},"y":{"value":0},
"shape":{"field":"region","type":"nominal","legend":null,"scale":{"domain":["Jug","Centar","Sjever"],"range":["M1292,675.3L1263.5,680.7","M1104.6,737.7L1165.5,703.3","M1107.8,631.3L1150.9,661.7"]}},
"stroke":{"field":"region","type":"nominal","legend":null,"scale":{"domain":["Jug","Centar","Sjever"],"range":["#4169B2","#F07B29","#A5A5A5"]}}}},
{"data":{"name":"regions"},"mark":{"type":"point","filled":true,"opacity":1,"shape":"circle","size":34,"strokeWidth":0},"encoding":{
"x":{"field":"n","type":"quantitative","axis":null,"scale":{"domain":[841,3419,3728],"range":[1107.8,1292,1104.6],"zero":false,"nice":false}},
"y":{"field":"n","type":"quantitative","axis":null,"scale":{"domain":[841,3419,3728],"range":[631.3,675.3,737.7],"zero":false,"nice":false}},
"fill":{"field":"region","type":"nominal","legend":null,"scale":{"domain":["Jug","Centar","Sjever"],"range":["#4169B2","#F07B29","#A5A5A5"]}}}},
{"data":{"name":"regions"},"mark":{"type":"point","filled":true,"opacity":1,"fill":"#FFFFFF","strokeWidth":1.8,"size":4,"shape":"M-49.2,-19H49.2Q53.2,-19 53.2,-15V15Q53.2,19 49.2,19H-49.2Q-53.2,19 -53.2,15V-15Q-53.2,-19 -49.2,-19Z"},"encoding":{
"x":{"field":"n","type":"quantitative","axis":null,"scale":{"domain":[841,3419,3728],"range":[1002.4,1399.8,999.6],"zero":false,"nice":false}},
"y":{"field":"n","type":"quantitative","axis":null,"scale":{"domain":[841,3419,3728],"range":[632,676.8,741],"zero":false,"nice":false}},
"stroke":{"field":"region","type":"nominal","legend":null,"scale":{"domain":["Jug","Centar","Sjever"],"range":["#4169B2","#F07B29","#A5A5A5"]}}}},
{"data":{"name":"regions"},"mark":{"type":"text","font":"Roboto","fontWeight":700,"fontSize":13.5,"lineBreak":"\n","lineHeight":13.8,"color":"#231047","align":"left","baseline":"middle"},"encoding":{"text":{"field":"label"},
"x":{"field":"n","type":"quantitative","axis":null,"scale":{"domain":[841,3419,3728],"range":[958.3,1355.3,956.7],"zero":false,"nice":false}},
"y":{"field":"n","type":"quantitative","axis":null,"scale":{"domain":[841,3419,3728],"range":[625.3,670,734],"zero":false,"nice":false}}}},
{"data":{"name":"regions"},"mark":{"type":"point","filled":true,"opacity":1,"fill":"#FFFFFF","strokeWidth":1.1,"size":4,"shape":"M-21.15,-8.35H21.15Q23.15,-8.35 23.15,-6.35V6.35Q23.15,8.35 21.15,8.35H-21.15Q-23.15,8.35 -23.15,6.35V-6.35Q-23.15,-8.35 -21.15,-8.35Z"},"encoding":{
"x":{"field":"n","type":"quantitative","axis":null,"scale":{"domain":[841,3419,3728],"range":[1082.7,1319.1,1079.5],"zero":false,"nice":false}},
"y":{"field":"n","type":"quantitative","axis":null,"scale":{"domain":[841,3419,3728],"range":[620.3,666.5,728.3],"zero":false,"nice":false}},
"stroke":{"field":"region","type":"nominal","legend":null,"scale":{"domain":["Jug","Centar","Sjever"],"range":["#4169B2","#F07B29","#A5A5A5"]}}}},
{"data":{"name":"regions"},"mark":{"type":"text","font":"Roboto","fontWeight":900,"fontSize":10.8,"color":"#8BC53F","align":"center","baseline":"middle"},"encoding":{"text":{"field":"growth"},
"x":{"field":"n","type":"quantitative","axis":null,"scale":{"domain":[841,3419,3728],"range":[1082.7,1319.1,1079.5],"zero":false,"nice":false}},
"y":{"field":"n","type":"quantitative","axis":null,"scale":{"domain":[841,3419,3728],"range":[620.3,666.5,728.3],"zero":false,"nice":false}}}},
{"data":{"name":"regions"},"mark":{"type":"point","filled":true,"opacity":1,"strokeWidth":0,"size":4,"shape":"M-21.15,-8.35H21.15Q23.15,-8.35 23.15,-6.35V8.35H-23.15V-6.35Q-23.15,-8.35 -21.15,-8.35Z"},"encoding":{
"x":{"field":"n","type":"quantitative","axis":null,"scale":{"domain":[841,3419,3728],"range":[1082.7,1319.1,1079.5],"zero":false,"nice":false}},
"y":{"field":"n","type":"quantitative","axis":null,"scale":{"domain":[841,3419,3728],"range":[603.7,649.8,711.7],"zero":false,"nice":false}},
"fill":{"field":"region","type":"nominal","legend":null,"scale":{"domain":["Jug","Centar","Sjever"],"range":["#4169B2","#F07B29","#A5A5A5"]}}}},
{"data":{"name":"regions"},"mark":{"type":"text","font":"Roboto","fontWeight":700,"fontSize":11,"align":"center","baseline":"middle"},"encoding":{"text":{"field":"shown"},
"x":{"field":"n","type":"quantitative","axis":null,"scale":{"domain":[841,3419,3728],"range":[1082.7,1319.1,1079.5],"zero":false,"nice":false}},
"y":{"field":"n","type":"quantitative","axis":null,"scale":{"domain":[841,3419,3728],"range":[603.7,649.8,711.7],"zero":false,"nice":false}},
"color":{"field":"region","type":"nominal","legend":null,"scale":{"domain":["Jug","Centar","Sjever"],"range":["#FFFFFF","#FFFFFF","#3A3A3A"]}}}},
{"data":{"name":"regions"},"mark":{"type":"point","filled":true,"opacity":1,"fill":"#FFFFFF","strokeWidth":1.7,"size":4,"shape":"M-21.15,-8.35H21.15Q23.15,-8.35 23.15,-6.35V6.35Q23.15,8.35 21.15,8.35H-21.15Q-23.15,8.35 -23.15,6.35V-6.35Q-23.15,-8.35 -21.15,-8.35Z"},"encoding":{
"x":{"field":"n","type":"quantitative","axis":null,"scale":{"domain":[841,3419,3728],"range":[1082.7,1319.1,1079.5],"zero":false,"nice":false}},
"y":{"field":"n","type":"quantitative","axis":null,"scale":{"domain":[841,3419,3728],"range":[642.2,687.3,751],"zero":false,"nice":false}},
"stroke":{"field":"region","type":"nominal","legend":null,"scale":{"domain":["Jug","Centar","Sjever"],"range":["#4169B2","#F07B29","#A5A5A5"]}}}},
{"data":{"name":"regions"},"mark":{"type":"text","font":"Roboto","fontWeight":900,"fontSize":11.3,"color":"#231047","align":"center","baseline":"middle"},"encoding":{"text":{"field":"share"},
"x":{"field":"n","type":"quantitative","axis":null,"scale":{"domain":[841,3419,3728],"range":[1082.7,1319.1,1079.5],"zero":false,"nice":false}},
"y":{"field":"n","type":"quantitative","axis":null,"scale":{"domain":[841,3419,3728],"range":[642.2,687.3,751],"zero":false,"nice":false}}}},
{"data":{"name":"regions"},"mark":{"type":"point","filled":true,"opacity":1,"fill":"#FFFFFF","strokeWidth":1.7,"size":4,"shape":"M-21.15,-8.35H21.15Q23.15,-8.35 23.15,-6.35V6.35Q23.15,8.35 21.15,8.35H-21.15Q-23.15,8.35 -23.15,6.35V-6.35Q-23.15,-8.35 -21.15,-8.35Z"},"encoding":{
"x":{"field":"n","type":"quantitative","axis":null,"scale":{"domain":[841,3419,3728],"range":[1082.7,1319.1,1079.5],"zero":false,"nice":false}},
"y":{"field":"n","type":"quantitative","axis":null,"scale":{"domain":[841,3419,3728],"range":[662.7,709,771.8],"zero":false,"nice":false}},
"stroke":{"field":"region","type":"nominal","legend":null,"scale":{"domain":["Jug","Centar","Sjever"],"range":["#4169B2","#F07B29","#A5A5A5"]}}}},
{"data":{"name":"regions"},"mark":{"type":"text","font":"Roboto","fontWeight":900,"fontSize":11.3,"align":"center","baseline":"middle"},"encoding":{"text":{"field":"change"},
"x":{"field":"n","type":"quantitative","axis":null,"scale":{"domain":[841,3419,3728],"range":[1082.7,1319.1,1079.5],"zero":false,"nice":false}},
"y":{"field":"n","type":"quantitative","axis":null,"scale":{"domain":[841,3419,3728],"range":[662.7,709,771.8],"zero":false,"nice":false}},
"color":{"condition":{"test":"datum.change[0]==='+'","value":"#8BC53F"},"value":"#EE2A24"}}}
]}
